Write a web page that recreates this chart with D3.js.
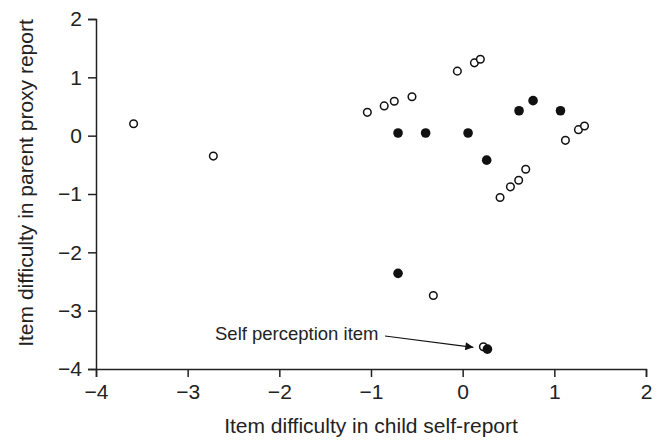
<!DOCTYPE html>
<html><head><meta charset="utf-8">
<script src="https://cdn.jsdelivr.net/npm/d3@7"></script>
<style>
html,body{margin:0;padding:0;background:#fff;}
svg{display:block;font-family:"Liberation Sans",Arial,Helvetica,sans-serif;}
</style></head>
<body>
<svg id="chart" width="657" height="440"></svg>
<script>
// Open circles: items (child self-report difficulty, parent proxy difficulty)
const openX = [-3.59, -2.72, -1.04, -0.856, -0.746, -0.553, -0.058, 0.128, 0.193, 1.121, 1.263, 1.329, 0.688, 0.611, 0.521, 0.408, -0.32, 0.226];
const openY = [0.205, -0.35, 0.40, 0.51, 0.59, 0.667, 1.106, 1.248, 1.31, -0.08, 0.103, 0.165, -0.576, -0.764, -0.877, -1.06, -2.74, -3.62];
// Filled circles
const filledX = [-0.705, -0.404, 0.059, 0.262, 0.615, 0.768, 1.067, -0.705, 0.27];
const filledY = [0.046, 0.046, 0.046, -0.42, 0.427, 0.60, 0.427, -2.36, -3.66];
const xTicks = [-4, -3, -2, -1, 0, 1, 2];
const yTicks = [-4, -3, -2, -1, 0, 1, 2];
const xTitle = "Item difficulty in child self-report";
const yTitle = "Item difficulty in parent proxy report";
const annText = "Self perception item";
const annTarget = [0.226, -3.62];

const svg = d3.select("#chart");
const x = d3.scaleLinear().domain([-4, 2]).range([96, 646]);
const y = d3.scaleLinear().domain([-4, 2]).range([369, 19]);
const ink = "#222";

const fmt = d => d < 0 ? "\u2212" + Math.abs(d) : String(d);

const gx = svg.append("g").attr("transform", `translate(0,${y(-4)})`)
  .call(d3.axisBottom(x).tickValues(xTicks).tickFormat(fmt).tickSizeOuter(0).tickSize(8).tickPadding(7));
const gy = svg.append("g").attr("transform", `translate(${x(-4)},0)`)
  .call(d3.axisLeft(y).tickValues(yTicks).tickFormat(fmt).tickSizeOuter(0).tickSize(8).tickPadding(6));
[gx, gy].forEach(g => {
  g.select(".domain").attr("stroke", ink).attr("stroke-width", 1.5);
  g.selectAll(".tick line").attr("stroke", ink).attr("stroke-width", 1.5);
  g.selectAll(".tick text").attr("fill", ink).style("font-size", "21px")
    .style("font-family", '"Liberation Sans",Arial,sans-serif');
});

// axis titles
svg.append("text").attr("x", 371).attr("y", 433).attr("text-anchor", "middle")
  .attr("fill", ink).style("font-size", "21px").text(xTitle);
svg.append("text").attr("transform", "translate(33,183) rotate(-90)").attr("text-anchor", "middle")
  .attr("fill", ink).style("font-size", "21px").text(yTitle);

// points
const openData = openX.map((v, i) => [v, openY[i]]);
const filledData = filledX.map((v, i) => [v, filledY[i]]);
svg.append("g").selectAll("circle").data(openData).join("circle")
  .attr("cx", d => x(d[0])).attr("cy", d => y(d[1])).attr("r", 3.8)
  .attr("fill", "#fff").attr("stroke", "#111").attr("stroke-width", 1.5);
svg.append("g").selectAll("circle").data(filledData).join("circle")
  .attr("cx", d => x(d[0])).attr("cy", d => y(d[1])).attr("r", 4.8)
  .attr("fill", "#111");

// annotation
svg.append("defs").append("marker").attr("id", "arr")
  .attr("viewBox", "0 0 10 10").attr("refX", 10).attr("refY", 5)
  .attr("markerWidth", 10).attr("markerHeight", 8).attr("markerUnits", "userSpaceOnUse")
  .attr("orient", "auto")
  .append("path").attr("d", "M0,0 L10,5 L0,10 Z").attr("fill", "#111");
svg.append("text").attr("x", 215).attr("y", 340).attr("fill", ink)
  .style("font-size", "18.5px").text(annText);
svg.append("line").attr("x1", 385).attr("y1", 336)
  .attr("x2", x(annTarget[0]) - 10).attr("y2", y(annTarget[1]) + 0.5)
  .attr("stroke", "#111").attr("stroke-width", 1.2).attr("marker-end", "url(#arr)");
</script>
</body></html>
